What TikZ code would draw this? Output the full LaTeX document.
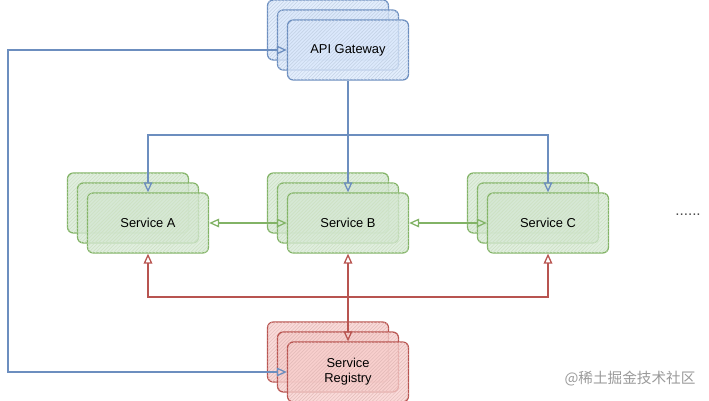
\documentclass[tikz,border=0pt]{standalone}
\usepackage{fontspec}
\setmainfont{Liberation Sans}
\newfontfamily\cjkfont{Noto Sans CJK SC}
\usepackage{xcolor}
\definecolor{gatewayBlue}{HTML}{6C8EBF}
\definecolor{gatewayFill}{HTML}{DAE8FC}
\definecolor{serviceGreen}{HTML}{82B366}
\definecolor{serviceFill}{HTML}{D5E8D4}
\definecolor{registryRed}{HTML}{B85450}
\definecolor{registryFill}{HTML}{F8CECC}
\definecolor{markGray}{HTML}{9A9A9A}
\usepackage{tikz}
\usetikzlibrary{
    arrows.meta,
    patterns,
    positioning,
    calc
}
\tikzset{
    % Base style for the stacked boxes
    stack base/.style={
        rectangle,
        rounded corners=5pt,
        minimum width=3.63cm,
        minimum height=1.8cm,
        line width=1.1pt,
        font=\fontsize{11}{13}\selectfont,
        align=center,
        text=black,
        fill opacity=0.75,
        text opacity=1,
    },
    % Gateway boxes - blue
    gateway/.style={
        stack base,
        draw=gatewayBlue,
        fill=gatewayFill,
        postaction={pattern=north east lines, pattern color=gatewayBlue!40},
    },
    % Service boxes - green
    service/.style={
        stack base,
        draw=serviceGreen,
        fill=serviceFill,
        postaction={pattern=north east lines, pattern color=serviceGreen!40},
    },
    % Registry boxes - red
    registry/.style={
        stack base,
        draw=registryRed,
        fill=registryFill,
        postaction={pattern=north east lines, pattern color=registryRed!40},
    },
    % Connectors
    link/.style={
        -{Triangle[open, length=3mm, width=2.6mm]},
        line width=1.1pt,
    },
    link both/.style={
        {Triangle[open, length=3mm, width=2.6mm]}-{Triangle[open, length=3mm, width=2.6mm]},
        line width=1.1pt,
    },
}

\begin{document}
\begin{tikzpicture}[x=0.03cm, y=-0.03cm]
    \useasboundingbox (0,0) rectangle (709,401);

    % API gateway stack
    \node (gw3) [gateway] at (328,30) {};
    \node (gw2) [gateway] at (338,40) {};
    \node (gw) [gateway] at (348,50) {API Gateway};

    % service stacks
    \node (svcA3) [service] at (128,203) {};
    \node (svcA2) [service] at (138,213) {};
    \node (svcA) [service] at (148,223) {Service A};

    \node (svcB3) [service] at (328,203) {};
    \node (svcB2) [service] at (338,213) {};
    \node (svcB) [service] at (348,223) {Service B};

    \node (svcC3) [service] at (528,203) {};
    \node (svcC2) [service] at (538,213) {};
    \node (svcC) [service] at (548,223) {Service C};

    \node (more) at (688,215) {\fontsize{13}{15}\selectfont\textcolor{black!70}{......}};

    % registry stack
    \node (reg3) [registry] at (328,352) {};
    \node (reg2) [registry] at (338,362) {};
    \node (reg) [registry] at (348,372) {Service\\Registry};

    \coordinate (gwBus) at (348,135);
    \coordinate (regBus) at (348,297);
    \coordinate (loop) at (8,200);

    % gateway to services
    \draw [link, gatewayBlue] (gw.south) -- (svcB.north);
    \draw [link, gatewayBlue] (gwBus) -| (svcA.north);
    \draw [link, gatewayBlue] (gwBus) -| (svcC.north);
    \draw [link both, gatewayBlue] (gw.west) -| (loop) |- (reg.west);

    % services talk to each other
    \draw [link both, serviceGreen] (svcA.east) -- (svcB.west);
    \draw [link both, serviceGreen] (svcB.east) -- (svcC.west);

    % registry
    \draw [link both, registryRed] (svcB.south) -- (reg.north);
    \draw [link, registryRed] (regBus) -| (svcA.south);
    \draw [link, registryRed] (regBus) -| (svcC.south);

    \node (mark) at (630,379) {\cjkfont\fontsize{12.5}{14}\selectfont\textcolor{markGray}{@稀土掘金技术社区}};
\end{tikzpicture}
\end{document}
